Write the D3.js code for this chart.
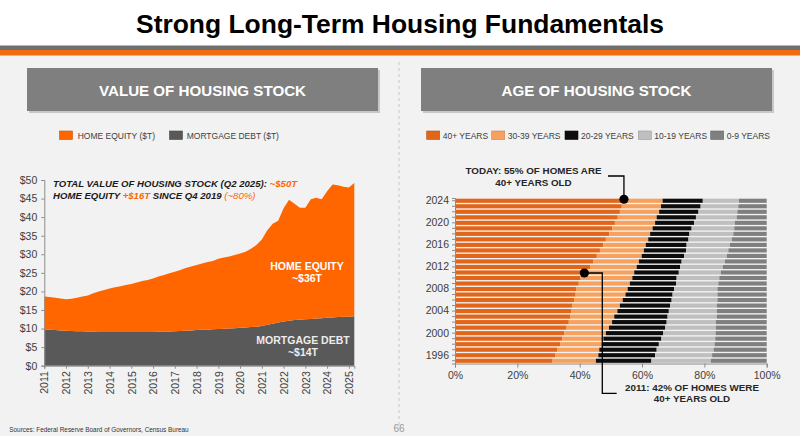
<!DOCTYPE html>
<html>
<head>
<meta charset="utf-8">
<script src="https://cdn.jsdelivr.net/npm/d3@7"></script>
<style>
  html, body { margin:0; padding:0; background:#f2f2f2; }
  svg { display:block; font-family:'Liberation Sans', Arial, sans-serif; }
</style>
</head>
<body>
<svg id="chart" width="800" height="436"></svg>
<script>
// ---- left panel: value of housing stock, $T, quarterly 2011Q1 .. 2025Q2
var QUARTERS = [
  '2011Q1','2011Q2','2011Q3','2011Q4','2012Q1','2012Q2','2012Q3','2012Q4',
  '2013Q1','2013Q2','2013Q3','2013Q4','2014Q1','2014Q2','2014Q3','2014Q4',
  '2015Q1','2015Q2','2015Q3','2015Q4','2016Q1','2016Q2','2016Q3','2016Q4',
  '2017Q1','2017Q2','2017Q3','2017Q4','2018Q1','2018Q2','2018Q3','2018Q4',
  '2019Q1','2019Q2','2019Q3','2019Q4','2020Q1','2020Q2','2020Q3','2020Q4',
  '2021Q1','2021Q2','2021Q3','2021Q4','2022Q1','2022Q2','2022Q3','2022Q4',
  '2023Q1','2023Q2','2023Q3','2023Q4','2024Q1','2024Q2','2024Q3','2024Q4',
  '2025Q1','2025Q2'
];
var MORTGAGE_DEBT = [
  9.8, 9.7, 9.6, 9.5,   9.4, 9.35, 9.3, 9.25,  9.2, 9.15, 9.1, 9.1,   9.1, 9.1, 9.1, 9.1,
  9.1, 9.1, 9.1, 9.1,   9.1, 9.15, 9.2, 9.2,   9.3, 9.35, 9.4, 9.5,   9.6, 9.65, 9.7, 9.8,
  9.9, 9.95, 10.0, 10.1, 10.2, 10.3, 10.4, 10.5, 10.7, 11.0, 11.3, 11.6, 11.9, 12.1, 12.3, 12.4,
  12.5, 12.6, 12.7, 12.8, 12.9, 13.0, 13.1, 13.15, 13.2, 13.3
];
var HOME_EQUITY = [
  8.8, 8.8, 8.7, 8.6,   8.5, 8.65, 9.0, 9.35,  9.7, 10.35, 10.9, 11.3, 11.7, 12.0, 12.3, 12.6,
  12.9, 13.3, 13.7, 14.0, 14.4, 14.85, 15.2, 15.7, 16.0, 16.45, 16.9, 17.2, 17.5, 17.85, 18.2, 18.4,
  18.9, 19.15, 19.4, 19.7, 20.0, 20.4, 21.1, 22.0, 23.3, 25.5, 26.9, 27.4, 30.5, 32.6, 31.3, 30.1,
  30.0, 32.2, 32.5, 32.0, 34.1, 35.8, 35.5, 35.05, 34.8, 35.9
];
var VALUE_YEARS = [2011,2012,2013,2014,2015,2016,2017,2018,2019,2020,2021,2022,2023,2024,2025];
var VALUE_TICKS = [0,5,10,15,20,25,30,35,40,45,50];

// ---- right panel: age of housing stock, share of homes (%) by age band
var AGE_YEARS = [1995,1996,1997,1998,1999,2000,2001,2002,2003,2004,2005,2006,2007,2008,2009,
                 2010,2011,2012,2013,2014,2015,2016,2017,2018,2019,2020,2021,2022,2023,2024];
var AGE_BANDS = ['40+ YEARS','30-39 YEARS','20-29 YEARS','10-19 YEARS','0-9 YEARS'];
var AGE_40 = [31.3,32.1,32.9,33.7,34.4,35.1,35.8,36.5,36.9,37.4,37.7,38.2,38.7,39.0,39.7,
              40.1,41.5,43.3,44.4,45.5,46.5,47.6,48.4,49.5,50.5,51.3,52.2,52.9,53.5,54.2];
var AGE_30 = [13.9,13.9,13.4,13.4,13.2,13.3,13.6,13.9,14.2,14.7,15.2,15.6,16.0,16.4,16.4,
              16.8,16.0,15.0,14.6,14.4,14.1,13.6,13.6,13.1,12.9,12.9,12.5,12.6,12.6,12.4];
var AGE_20 = [17.8,18.2,18.4,18.3,18.6,18.4,18.0,17.5,17.1,16.5,16.1,15.7,15.1,14.9,14.8,
              14.2,14.3,13.9,13.7,13.6,13.5,13.1,12.9,12.6,12.5,12.5,12.6,12.6,12.7,12.9];
var AGE_10 = [19.1,18.3,18.3,17.9,17.3,16.8,16.3,15.8,15.8,15.4,15.0,14.7,14.4,13.9,13.6,
              13.7,13.5,13.7,13.9,13.7,13.6,13.9,13.9,14.1,13.7,13.1,13.1,12.5,12.1,11.6];
var AGE_0  = [17.9,17.5,17.0,16.7,16.5,16.4,16.3,16.3,16.0,16.0,16.0,15.8,15.8,15.8,15.5,
              15.2,14.7,14.1,13.4,12.8,12.3,11.8,11.2,10.7,10.4,10.2,9.6,9.4,9.1,8.9];
var PCT_TICKS = [0,20,40,60,80,100];

var ORANGE = '#ff6600', DEBT_GRAY = '#595959';
var AGE_COLORS = ['#e2661a','#f6a25e','#0d0d0d','#bfbfbf','#7f7f7f'];
var TXT = '#404040';

var svg = d3.select('#chart');

/* ------------------------------------------------------------ page frame */
svg.append('rect').attr('width',800).attr('height',436).attr('fill','#f2f2f2');
svg.append('rect').attr('width',800).attr('height',46).attr('fill','#ffffff');
svg.append('rect').attr('y',45.5).attr('width',800).attr('height',4.5).attr('fill','#707070');
svg.append('rect').attr('y',50).attr('width',800).attr('height',5.5).attr('fill','#f26b10');

svg.append('text').attr('x',400).attr('y',33).attr('text-anchor','middle')
  .attr('font-size',26).attr('font-weight','bold').attr('fill','#000')
  .attr('textLength',528).attr('lengthAdjust','spacingAndGlyphs')
  .text('Strong Long-Term Housing Fundamentals');

svg.append('line').attr('x1',399).attr('x2',399).attr('y1',62).attr('y2',425)
  .attr('stroke','#c4c4c4').attr('stroke-width',1).attr('stroke-dasharray','3,3');

function header(x, w, label, tw){
  svg.append('rect').attr('x',x+2).attr('y',70).attr('width',w).attr('height',43).attr('fill','#c8c8c8');
  svg.append('rect').attr('x',x).attr('y',68).attr('width',w).attr('height',43).attr('fill','#7f7f7f');
  svg.append('text').attr('x',x+w/2).attr('y',95.5).attr('text-anchor','middle')
    .attr('font-size',15).attr('fill','#fff').attr('font-weight','bold')
    .style('font-family',"'Liberation Sans Narrow', 'Arial Narrow', 'Liberation Sans', Arial, sans-serif")
    .attr('textLength',tw).attr('lengthAdjust','spacingAndGlyphs').text(label);
}
header(27, 351, 'VALUE OF HOUSING STOCK', 207);
header(421, 351, 'AGE OF HOUSING STOCK', 190);

function legendItem(x, y, color, label, textX){
  svg.append('rect').attr('x',x).attr('y',y).attr('width',13).attr('height',8.5)
    .attr('fill',color).attr('stroke',d3.color(color).darker(0.6)).attr('stroke-width',0.6);
  svg.append('text').attr('x',textX).attr('y',y+7.5).attr('font-size',8.5).attr('fill',TXT).text(label);
}

/* ----------------------------------------------- left: value of housing stock */
var qx = QUARTERS.map(function(q){ return +q.slice(0,4) + (+q.slice(5)-1)/4; });
var xV = d3.scaleLinear().domain([2011, 2025.25]).range([44.3, 354.3]);
var yV = d3.scaleLinear().domain([0, 50]).range([365.7, 180]);

legendItem(59.5, 131, ORANGE, 'HOME EQUITY ($T)', 77.7);
legendItem(169.5, 131, DEBT_GRAY, 'MORTGAGE DEBT ($T)', 186.7);

var rows = QUARTERS.map(function(q,i){ return { x:qx[i], debt:MORTGAGE_DEBT[i], equity:HOME_EQUITY[i] }; });
var stackV = d3.stack().keys(['debt','equity'])(rows);
var areaV = d3.area().x(function(d){ return xV(d.data.x); })
  .y0(function(d){ return yV(d[0]); }).y1(function(d){ return yV(d[1]); });
svg.append('g').selectAll('path').data(stackV).join('path')
  .attr('d', areaV).attr('fill', function(d,i){ return i===0 ? DEBT_GRAY : ORANGE; });

var axY = svg.append('g').attr('transform','translate(44.3,0)')
  .call(d3.axisLeft(yV).tickValues(VALUE_TICKS).tickSize(3).tickPadding(4)
        .tickFormat(function(d){ return '$' + d; }));
var axX = svg.append('g').attr('transform','translate(0,365.7)')
  .call(d3.axisBottom(xV).tickValues(VALUE_YEARS).tickSize(3).tickFormat(d3.format('d')));
axX.selectAll('text').attr('transform','rotate(-90)').attr('x',-5.5).attr('y',0)
  .attr('dy','0.35em').style('text-anchor','end');
[axY, axX].forEach(function(a){
  a.selectAll('path,line').attr('stroke','#8c8c8c');
  a.selectAll('text').attr('font-size',10.5).attr('fill',TXT).style('font-family',"'Liberation Sans', Arial, sans-serif");
});

var note = svg.append('g').attr('font-size',9.6).attr('font-weight','bold').attr('font-style','italic');
var n1 = note.append('text').attr('x',53).attr('y',187);
n1.append('tspan').attr('fill','#1a1a1a').text('TOTAL VALUE OF HOUSING STOCK (Q2 2025): ');
n1.append('tspan').attr('fill',ORANGE).text('~$50T');
var n2 = note.append('text').attr('x',53).attr('y',198.5);
n2.append('tspan').attr('fill','#1a1a1a').text('HOME EQUITY ');
n2.append('tspan').attr('fill',ORANGE).text('+$16T');
n2.append('tspan').attr('fill','#1a1a1a').text(' SINCE Q4 2019 ');
n2.append('tspan').attr('fill',ORANGE).attr('font-weight','normal').text('(~80%)');

var lab = svg.append('g').attr('font-size',10.5).attr('font-weight','bold').attr('text-anchor','middle');
lab.append('text').attr('x',307).attr('y',269.5).attr('fill','#fff').text('HOME EQUITY');
lab.append('text').attr('x',307).attr('y',281.5).attr('fill','#fff').text('~$36T');
lab.append('text').attr('x',303).attr('y',344).attr('fill','#ececec').text('MORTGAGE DEBT');
lab.append('text').attr('x',303).attr('y',356).attr('fill','#ececec').text('~$14T');

/* ------------------------------------------------- right: age of housing stock */
var xA = d3.scaleLinear().domain([0,100]).range([455, 766.7]);
var yA = d3.scaleBand().domain(AGE_YEARS.slice().reverse()).range([198, 363.5])
  .paddingInner(0.25).paddingOuter(0.125);

var legT = [442.7, 507.7, 581, 654.3, 726.7];
AGE_BANDS.forEach(function(b,i){ legendItem(legT[i] - 16, 131, AGE_COLORS[i], b, legT[i]); });

var ageRows = AGE_YEARS.map(function(y,i){
  return { year:y, a40:AGE_40[i], a30:AGE_30[i], a20:AGE_20[i], a10:AGE_10[i], a0:AGE_0[i] };
});
var stackA = d3.stack().keys(['a40','a30','a20','a10','a0'])(ageRows);
svg.append('g').selectAll('g').data(stackA).join('g')
  .attr('fill', function(d,i){ return AGE_COLORS[i]; })
  .selectAll('rect').data(function(d){ return d; }).join('rect')
  .attr('x', function(d){ return xA(d[0]); })
  .attr('width', function(d){ return xA(d[1]) - xA(d[0]); })
  .attr('y', function(d){ return yA(d.data.year); })
  .attr('height', yA.bandwidth());

var axAY = svg.append('g').attr('transform','translate(455,0)')
  .call(d3.axisLeft(yA).tickSize(3).tickPadding(3)
        .tickFormat(function(d){ return (d - 1996) % 4 === 0 ? d : ''; }));
var axAX = svg.append('g').attr('transform','translate(0,363.5)')
  .call(d3.axisBottom(xA).tickValues(PCT_TICKS).tickSize(4).tickPadding(4)
        .tickFormat(function(d){ return d + '%'; }));
[axAY, axAX].forEach(function(a){
  a.selectAll('path,line').attr('stroke','#8c8c8c');
  a.selectAll('text').attr('font-size',10.5).attr('fill',TXT).style('font-family',"'Liberation Sans', Arial, sans-serif");
});

// call-outs: today and 2011
var call = svg.append('g');
var i24 = AGE_YEARS.indexOf(2024), i11 = AGE_YEARS.indexOf(2011);
var d24x = xA(AGE_40[i24]), d24y = yA(2024) + yA.bandwidth()/2 - 1.5;
var d11x = xA(AGE_40[i11]), d11y = yA(2011) + yA.bandwidth()/2 + 0.5;
call.append('path').attr('fill','none').attr('stroke','#000').attr('stroke-width',1.3)
  .attr('d','M'+d24x+','+d24y+'V176H608');
call.append('path').attr('fill','none').attr('stroke','#000').attr('stroke-width',1.3)
  .attr('d','M'+d11x+','+d11y+'H602.3V393.3H616.7');
call.selectAll('circle').data([[d24x,d24y],[d11x,d11y]]).join('circle')
  .attr('cx',function(d){ return d[0]; }).attr('cy',function(d){ return d[1]; })
  .attr('r',4.6).attr('fill','#000');

var ct = svg.append('g').attr('font-size',9.8).attr('font-weight','bold').attr('fill','#262626').attr('text-anchor','middle');
ct.append('text').attr('x',533.5).attr('y',174.3).text('TODAY: 55% OF HOMES ARE');
ct.append('text').attr('x',533.5).attr('y',186).text('40+ YEARS OLD');
ct.append('text').attr('x',692).attr('y',391.3).text('2011: 42% OF HOMES WERE');
ct.append('text').attr('x',692).attr('y',402).text('40+ YEARS OLD');

/* ---------------------------------------------------------------- footer */
svg.append('text').attr('x',9.3).attr('y',431.5).attr('font-size',6.4).attr('fill','#333')
  .text('Sources: Federal Reserve Board of Governors, Census Bureau');
svg.append('text').attr('x',399).attr('y',432).attr('text-anchor','middle')
  .attr('font-size',10).attr('fill','#999').text('66');
</script>
</body>
</html>
